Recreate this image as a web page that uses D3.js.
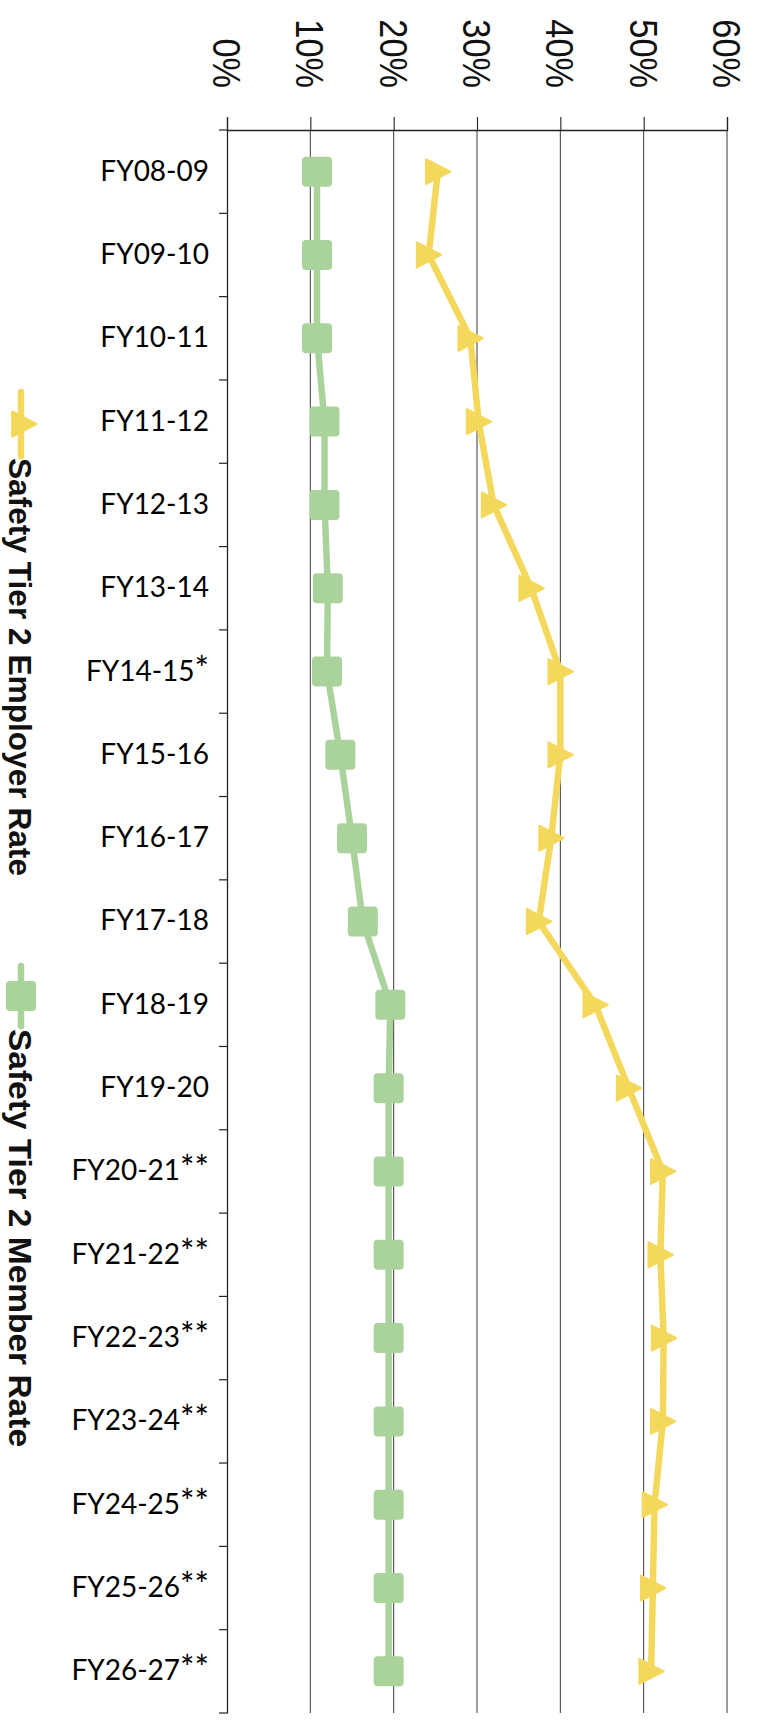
<!DOCTYPE html>
<html>
<head>
<meta charset="utf-8">
<script src="https://cdn.jsdelivr.net/npm/d3@7"></script>
<style>
  html, body { margin: 0; padding: 0; background: #fff; }
  svg { display: block; }
</style>
</head>
<body>
<script>
// Fiscal years, top to bottom
const categories = [
  "FY08-09", "FY09-10", "FY10-11", "FY11-12", "FY12-13", "FY13-14",
  "FY14-15*", "FY15-16", "FY16-17", "FY17-18", "FY18-19", "FY19-20",
  "FY20-21**", "FY21-22**", "FY22-23**", "FY23-24**", "FY24-25**",
  "FY25-26**", "FY26-27**"
];

// Contribution rates, in percent of pay
const employerRate = [25.3, 24.2, 29.2, 30.2, 32.0, 36.5, 40.0, 40.0, 38.9, 37.4,
                      44.2, 48.2, 52.3, 52.0, 52.4, 52.3, 51.3, 51.1, 50.9];
const memberRate   = [10.8, 10.8, 10.8, 11.7, 11.7, 12.1, 12.0, 13.6, 15.0, 16.3,
                      19.6, 19.4, 19.4, 19.4, 19.4, 19.4, 19.4, 19.4, 19.4];

const valueTicks = [0, 10, 20, 30, 40, 50, 60];
const seriesNames = ["Safety Tier 2 Employer Rate", "Safety Tier 2 Member Rate"];

const W = 759, H = 1721;
const YELLOW = "#f3d85c", GREEN = "#aad39c";

const svg = d3.select("body").append("svg")
  .attr("width", W).attr("height", H);

// Value axis runs left to right, categories run top to bottom
const x = d3.scaleLinear().domain([0, 60]).range([227, 727]);
const y = d3.scaleBand().domain(categories).range([130, 1713]);
const yc = c => y(c) + y.bandwidth() / 2;

// Vertical gridlines
svg.append("g").selectAll("line").data(valueTicks.slice(1)).join("line")
  .attr("x1", d => x(d)).attr("x2", d => x(d))
  .attr("y1", y.range()[0]).attr("y2", y.range()[1])
  .attr("stroke", "#3a3a3a").attr("stroke-width", 1);

// Top value axis
const xAxis = svg.append("g")
  .attr("transform", `translate(0,${y.range()[0]})`)
  .call(d3.axisTop(x).tickValues(valueTicks).tickSize(13).tickFormat(""));
xAxis.select(".domain").attr("stroke", "#222").attr("stroke-width", 1.3);
xAxis.selectAll(".tick line").attr("stroke", "#222").attr("stroke-width", 1.1);

// Rotated percent labels
svg.append("g").selectAll("text").data(valueTicks).join("text")
  .attr("transform", d => `translate(${x(d)},88) rotate(90) scale(0.88,1)`)
  .attr("text-anchor", "end")
  .attr("dy", "0.358em")
  .attr("font-family", "'Liberation Sans', Arial, sans-serif")
  .attr("font-size", 39)
  .attr("fill", "#111")
  .text(d => d + "%");

// Left category axis: labels at band centres, ticks at band edges
const yAxis = svg.append("g")
  .attr("transform", `translate(${x(0)},0)`)
  .call(d3.axisLeft(y).tickSize(0).tickPadding(18));
yAxis.select(".domain").attr("stroke", "#222").attr("stroke-width", 1.3);
yAxis.selectAll(".tick text")
  .attr("font-family", "Lato, 'Open Sans', sans-serif")
  .attr("font-size", 28)
  .attr("fill", "#000")
  .each(function (d) {
    // footnote asterisks are set a little larger
    const m = d.match(/^(.*?)(\**)$/);
    const t = d3.select(this).text(null);
    t.append("tspan").text(m[1]);
    if (m[2]) t.append("tspan").attr("font-size", 34).text(m[2]);
  });

const edges = categories.map(c => y(c)).concat([y.range()[1]]);
svg.append("g").selectAll("line").data(edges).join("line")
  .attr("x1", x(0) - 8).attr("x2", x(0))
  .attr("y1", d => d).attr("y2", d => d)
  .attr("stroke", "#222").attr("stroke-width", 1.2);

// Series
const series = [
  { name: seriesNames[0], values: employerRate, color: YELLOW, shape: "triangle" },
  { name: seriesNames[1], values: memberRate, color: GREEN, shape: "square" }
];

const line = d3.line()
  .x(d => x(d.v)).y(d => yc(d.c))
  .curve(d3.curveLinear);

const pts = s => s.values.map((v, i) => ({ v, c: categories[i] }));

const triPath = (cx, cy, r) =>
  `M${cx - r * 0.95},${cy - r} L${cx + r},${cy} L${cx - r * 0.95},${cy + r} Z`;

function drawMarker(g, shape, cx, cy, color) {
  if (shape === "square") {
    g.append("rect")
      .attr("x", cx - 15).attr("y", cy - 15)
      .attr("width", 30).attr("height", 30)
      .attr("rx", 4).attr("fill", color);
  } else {
    g.append("path")
      .attr("d", triPath(cx, cy, 12.5))
      .attr("fill", color)
      .attr("stroke", color).attr("stroke-width", 2)
      .attr("stroke-linejoin", "round");
  }
}

const plot = svg.append("g");
series.forEach(s => {
  plot.append("path")
    .datum(pts(s))
    .attr("d", line)
    .attr("fill", "none")
    .attr("stroke", s.color)
    .attr("stroke-width", 6.5)
    .attr("stroke-linejoin", "round")
    .attr("stroke-linecap", "round");
});
series.forEach(s => {
  const g = plot.append("g");
  pts(s).forEach(p => drawMarker(g, s.shape, x(p.v), yc(p.c), s.color));
});

// Legend, stacked vertically along the left edge
const legendItems = [
  { s: series[0], y0: 392, y1: 456, textY: 458 },
  { s: series[1], y0: 966, y1: 1026, textY: 1029 }
];
legendItems.forEach(item => {
  const g = svg.append("g");
  const cx = 21, cy = (item.y0 + item.y1) / 2;
  g.append("line")
    .attr("x1", cx).attr("x2", cx)
    .attr("y1", item.y0).attr("y2", item.y1)
    .attr("stroke", item.s.color).attr("stroke-width", 6.5)
    .attr("stroke-linecap", "round");
  drawMarker(g, item.s.shape, item.s.shape === "triangle" ? 24 : cx, cy, item.s.color);
  g.append("text")
    .attr("transform", `translate(9,${item.textY}) rotate(90)`)
    .attr("text-anchor", "start")
    .attr("font-family", "'Liberation Sans', Arial, sans-serif")
    .attr("font-weight", "bold")
    .attr("font-size", 32)
    .attr("textLength", 418)
    .attr("lengthAdjust", "spacingAndGlyphs")
    .attr("fill", "#111")
    .text(item.s.name);
});
</script>
</body>
</html>
